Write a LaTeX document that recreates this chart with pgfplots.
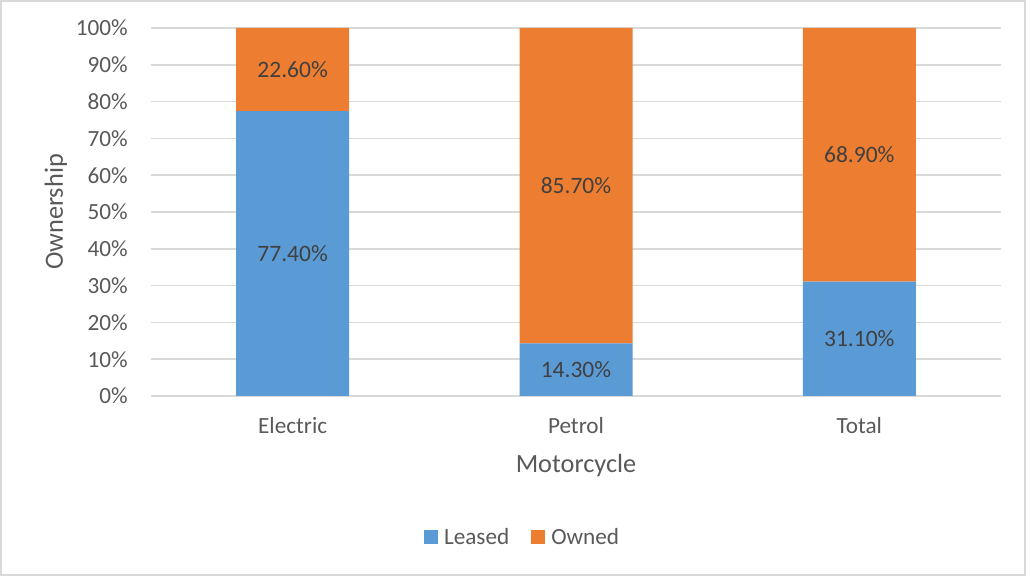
\documentclass[border=0pt]{standalone}
\usepackage{fontspec}
\setmainfont{Carlito}
\usepackage{pgfplots}
\pgfplotsset{compat=1.18}

\definecolor{leased}{HTML}{5B9BD5}
\definecolor{owned}{HTML}{ED7D31}
\definecolor{ticktext}{HTML}{595959}
\definecolor{labeltext}{HTML}{404040}
\definecolor{gridgray}{HTML}{D9D9D9}

\newcommand{\smallfont}{\fontsize{23.2}{27}\selectfont}
\newcommand{\datafont}{\fontsize{23.5}{27}\selectfont}
\newcommand{\titlefont}{\fontsize{26.3}{30}\selectfont}

\begin{document}
\begin{tikzpicture}
  \path[use as bounding box] (0pt,0pt) rectangle (1031pt,577pt);
  \draw[gridgray, line width=1.2pt] (1pt,2pt) rectangle (1025pt,576pt);
  \begin{axis}[
    at={(151pt,181pt)}, anchor=south west,
    scale only axis,
    width=850pt, height=368pt,
    ybar stacked,
    bar width=113pt,
    xmin=-0.5, xmax=2.5,
    ymin=0, ymax=100,
    xtick=data,
    xticklabels={Electric,Petrol,Total},
    ytick={0,10,...,100},
    yticklabel={\pgfmathprintnumber{\tick}\%},
    /pgf/number format/assume math mode=true,
    ymajorgrids,
    grid style={gridgray, line width=1.5pt},
    axis line style={draw=none},
    major tick length=0pt,
    tick style={draw=none},
    clip=false,
    y tick label style={font=\smallfont, text=ticktext, anchor=east, inner sep=0pt, xshift=-23pt},
    x tick label style={font=\smallfont, text=ticktext, anchor=base, inner sep=0pt, yshift=-38pt},
    xlabel={Motorcycle},
    ylabel={Ownership},
    label style={font=\titlefont, text=ticktext},
    xlabel style={at={(axis description cs:0.5,-0.19)}, anchor=center},
    ylabel style={at={(axis description cs:-0.112,0.5)}, anchor=center, rotate=0},
    legend columns=-1,
    legend style={
      at={(axis description cs:0.436,-0.383)}, anchor=center,
      draw=none, fill=none,
      font=\smallfont, text=ticktext,
      nodes={inner sep=0pt},
      column sep=6pt,
      /tikz/every even column/.append style={column sep=22pt},
    },
    legend image code/.code={\fill[#1] (0pt,-7pt) rectangle (14pt,7pt);},
    % segment labels show each series' own (unstacked) share
    point meta=rawy,
    nodes near coords={\pgfmathprintnumber[fixed,zerofill,precision=2]{\pgfplotspointmeta}\%},
    nodes near coords style={anchor=center, font=\datafont, text=labeltext},
  ]
    % Leased share per motorcycle type
    \addplot[fill=leased, draw=none] coordinates {(0,77.4) (1,14.3) (2,31.1)};
    % Owned share per motorcycle type
    \addplot[fill=owned, draw=none] coordinates {(0,22.6) (1,85.7) (2,68.9)};
    \legend{Leased,Owned}
  \end{axis}
\end{tikzpicture}
\end{document}
